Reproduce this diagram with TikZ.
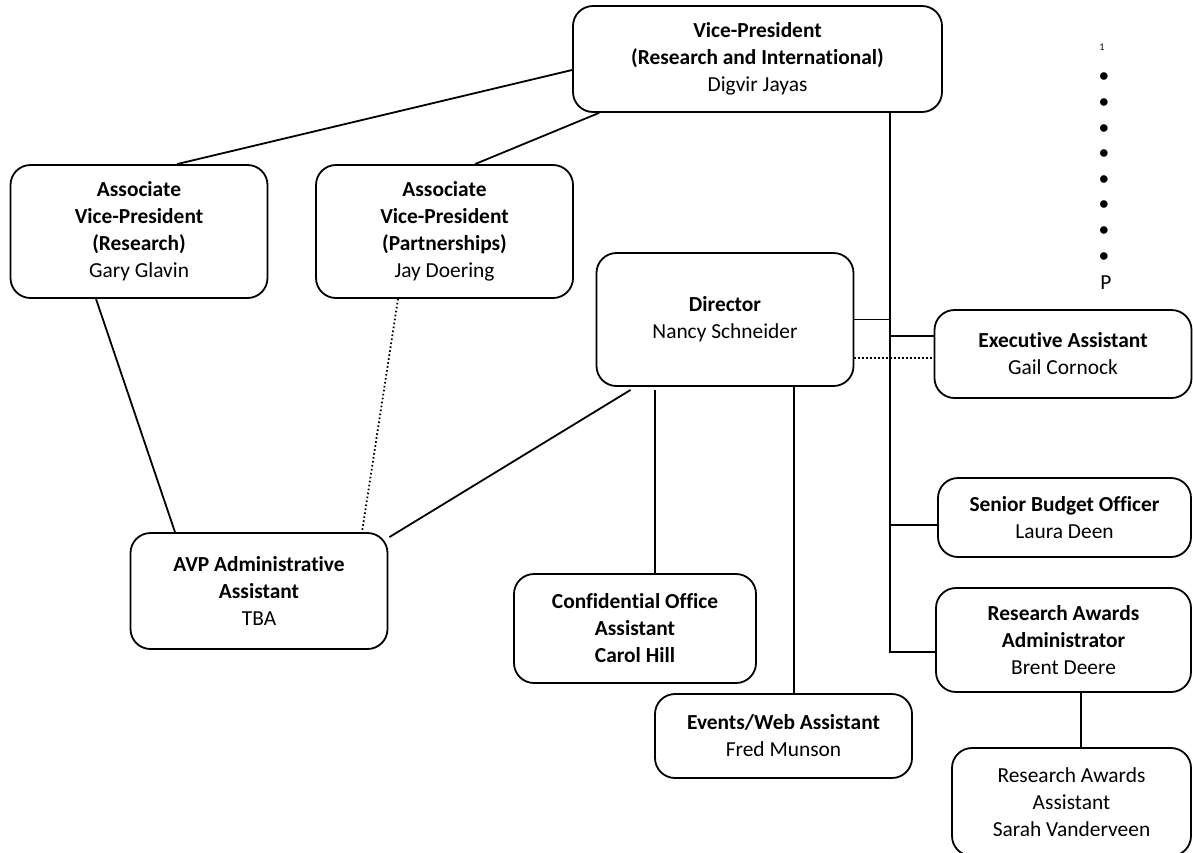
\documentclass[tikz,border=0pt]{standalone}
\usepackage{fontspec}
\setmainfont[Ligatures=NoCommon]{Carlito}
\usetikzlibrary{positioning,calc}
\tikzset{
	orgbox/.style={
		rectangle,
		draw=black,
		line width=0.9pt,
		rounded corners=10pt,
		align=center,
		inner sep=2pt,
		font=\fontsize{10.7}{13.5}\selectfont
	},
	link/.style={
		line width=0.9pt
	},
	dotlink/.style={
		line width=0.9pt,
		dash pattern=on 0.8pt off 1.2pt
	}
}
\begin{document}
\begin{tikzpicture}[
	x=0.5pt, y=-0.5pt,
	wide/.style={minimum width=128.5pt},
	every node/.style={text=black}
	]
	\path[use as bounding box, clip] (0,0) rectangle (1193,852);
	
	%--------------------
	% Top of the chart
	%--------------------
	\node[orgbox, minimum width=184.5pt, minimum height=53pt] (vp) at (757.5,59)
		{\textbf{Vice-President}\\\textbf{(Research and International)}\\Digvir Jayas};
	
	\node[orgbox, wide, minimum height=66.5pt] (avpr) at (139,231.5)
		{\textbf{Associate}\\\textbf{Vice-President}\\\textbf{(Research)}\\Gary Glavin};
	\node[orgbox, wide, minimum height=66.5pt] (avpp) at (444.5,231.5)
		{\textbf{Associate}\\\textbf{Vice-President}\\\textbf{(Partnerships)}\\Jay Doering};
	
	\node[orgbox, wide, minimum height=66.5pt] (dir) at (725,319.5)
		{\textbf{Director}\\Nancy Schneider};
	
	%--------------------
	% Right column
	%--------------------
	\node[orgbox, wide, minimum height=44pt] (exec) at (1063,354)
		{\textbf{Executive Assistant}\\Gail Cornock};
	\node[orgbox, minimum width=126.5pt, minimum height=39.5pt] (sbo) at (1064.5,517.5)
		{\textbf{Senior Budget Officer}\\Laura Deen};
	\node[orgbox, minimum width=127.5pt, minimum height=52pt] (raadm) at (1063.5,640)
		{\textbf{Research Awards}\\\textbf{Administrator}\\Brent Deere};
	\node[orgbox, minimum width=119.5pt, minimum height=54pt] (rasst) at (1071.5,802)
		{Research Awards\\Assistant\\Sarah Vanderveen};
	
	%--------------------
	% Lower boxes
	%--------------------
	\node[orgbox, wide, minimum height=58pt] (avpadm) at (259,591)
		{\textbf{AVP Administrative}\\\textbf{Assistant}\\TBA};
	\node[orgbox, minimum width=121pt, minimum height=54.5pt] (conf) at (635,628.5)
		{\textbf{Confidential Office}\\\textbf{Assistant}\\\textbf{Carol Hill}};
	\node[orgbox, wide, minimum height=42pt] (events) at (783.5,736)
		{\textbf{Events/Web Assistant}\\Fred Munson};
	
	%--------------------
	% Cut-off text at the right edge
	%--------------------
	\node[font=\fontsize{5}{6}\selectfont, inner sep=0pt] (note) at (1102,47) {1};
	\foreach \i in {0,...,7}
		\node[font=\fontsize{10.7}{13.5}\selectfont, inner sep=0pt] (dot\i) at (1104,{78+25.6*\i}) {\textbullet};
	\node[font=\fontsize{10.7}{13.5}\selectfont, inner sep=0pt] (pletter) at (1106,283) {P};
	
	%--------------------
	% Connections from the Vice-President
	%--------------------
	\coordinate (bustop) at ($(vp.south east)+(-53,0)$);
	\coordinate (busend) at ($(raadm.west)+(0,12)$);
	\draw[link] ($(vp.west)+(0,11)$) -- ($(avpr.north)+(38,0)$);
	\draw[link] ($(vp.south west)+(27,0)$) -- ($(avpp.north)+(30.5,0)$);
	\draw[link] (bustop) |- (busend);
	
	%--------------------
	% Connections on the right bus
	%--------------------
	\coordinate (execin) at ($(exec.west)+(0,-18)$);
	\coordinate (dotout) at ($(dir.east)+(0,38.5)$);
	\coordinate (sboin) at ($(sbo.west)+(0,7.5)$);
	\draw[link] (dir.east) -- (dir.east -| bustop);
	\draw[link] (execin) -- (execin -| bustop);
	\draw[dotlink] (dotout) -- (dotout -| exec.west);
	\draw[link] (sboin) -- (sboin -| bustop);
	
	\coordinate (raout) at ($(raadm.south)+(17.5,0)$);
	\draw[link] (raout) -- (raout |- rasst.north);
	
	%--------------------
	% Connections to the lower boxes
	%--------------------
	\draw[link] ($(avpr.south)+(-43,0)$) -- ($(avpadm.north)+(-84,0)$);
	\draw[dotlink] ($(avpp.south)+(-46.5,0)$) -- ($(avpadm.north)+(103,0)$);
	\draw[link] ($(dir.south west)+(35,3)$) -- ($(avpadm.north east)+(1,5)$);
	
	\coordinate (confout) at ($(dir.south west)+(59,3)$);
	\coordinate (eventsout) at ($(dir.south west)+(198,0)$);
	\draw[link] (confout) -- (confout |- conf.north);
	\draw[link] (eventsout) -- (eventsout |- events.north);
	
\end{tikzpicture}
\end{document}
